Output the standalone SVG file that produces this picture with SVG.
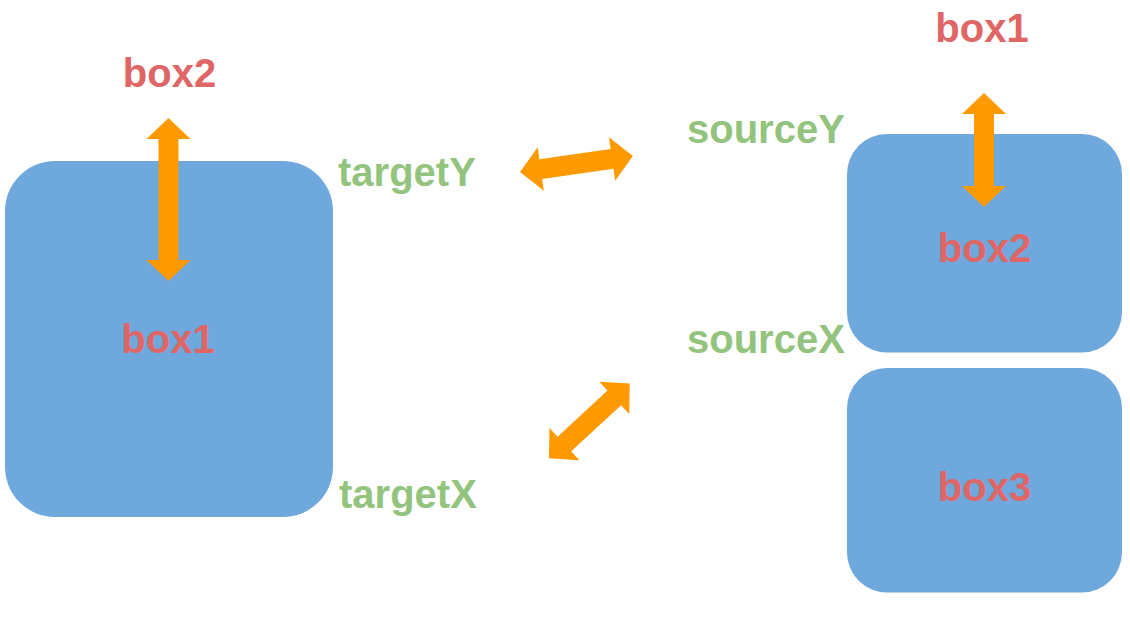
<svg xmlns="http://www.w3.org/2000/svg" width="1130" height="628" viewBox="0 0 1130 628">
  <style>
    .box { fill: #6FA8DC; }
    .lbl { font-family: "Liberation Sans", Arial, sans-serif; font-weight: bold; font-size: 40px; }
    .red { fill: #E06666; text-anchor: middle; }
    .green { fill: #93C47D; }
    .arrow { fill: #FF9900; }
  </style>
  <rect width="1130" height="628" fill="#FFFFFF"/>
  <g id="node-left-box1">
    <rect class="box" x="5" y="161" width="328" height="356" rx="50" ry="50"/>
    <text class="lbl red" x="168" y="353">box1</text>
  </g>
  <g id="node-right-box2">
    <rect class="box" x="847" y="134" width="275" height="218.5" rx="40" ry="40"/>
    <text class="lbl red" x="984.5" y="262">box2</text>
  </g>
  <g id="node-right-box3">
    <rect class="box" x="847" y="368" width="275" height="224.5" rx="40" ry="40"/>
    <text class="lbl red" x="984.5" y="501">box3</text>
  </g>
  <g id="labels">
    <text class="lbl red" x="169.5" y="87">box2</text>
    <text class="lbl red" x="982" y="42">box1</text>
    <text class="lbl green" x="338" y="186">targetY</text>
    <text class="lbl green" x="339" y="508">targetX</text>
    <text class="lbl green" x="687" y="143">sourceY</text>
    <text class="lbl green" x="687" y="353">sourceX</text>
  </g>
  <g id="connectors">
    <polygon class="arrow" transform="translate(168.5,118) rotate(90)" points="0,0 21,-22 21,-10 142,-10 142,-22 163,0 142,22 142,10 21,10 21,22"/>
    <polygon class="arrow" transform="translate(984,93) rotate(90)" points="0,0 21,-22 21,-10 93,-10 93,-22 114,0 93,22 93,10 21,10 21,22"/>
    <polygon class="arrow" transform="translate(520,172) rotate(-8.06)" points="0,0 21,-22 21,-10 93,-10 93,-22 114,0 93,22 93,10 21,10 21,22"/>
    <polygon class="arrow" transform="translate(549,458.3) rotate(-42.8)" points="0,0 21,-22 21,-10 89,-10 89,-22 110,0 89,22 89,10 21,10 21,22"/>
  </g>
</svg>
